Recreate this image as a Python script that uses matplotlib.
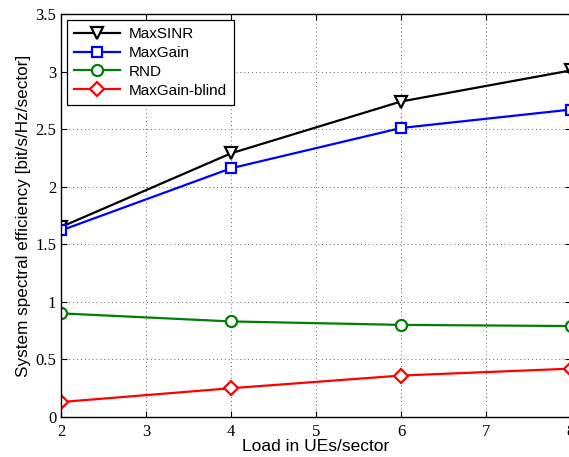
import matplotlib
matplotlib.use("Agg")
import matplotlib.pyplot as plt

load = [2, 4, 6, 8]
maxsinr = [1.65, 2.29, 2.74, 3.01]
maxgain = [1.62, 2.16, 2.51, 2.67]
rnd = [0.90, 0.83, 0.80, 0.79]
blind = [0.13, 0.25, 0.36, 0.42]
labels = ["MaxSINR", "MaxGain", "RND", "MaxGain-blind"]

fig = plt.figure(figsize=(5.69, 4.57), dpi=100)
ax = fig.add_axes([61/569, 40/457, 510/569, 403/457])

ax.plot(load, maxsinr, color="black", lw=1.6, marker="v", ms=9, mfc="white", mew=1.6, label=labels[0])
ax.plot(load, maxgain, color="blue", lw=1.6, marker="s", ms=7, mfc="white", mew=1.6, label=labels[1])
ax.plot(load, rnd, color="green", lw=1.6, marker="o", ms=8, mfc="white", mew=1.6, label=labels[2])
ax.plot(load, blind, color="red", lw=1.6, marker="D", ms=7, mfc="white", mew=1.6, label=labels[3])

ax.set_xlim(2, 8)
ax.set_ylim(0, 3.5)
ax.set_xticks([2, 3, 4, 5, 6, 7, 8])
ax.set_yticks([0, 0.5, 1, 1.5, 2, 2.5, 3, 3.5])
ax.set_yticklabels(["0", "0.5", "1", "1.5", "2", "2.5", "3", "3.5"])
ax.tick_params(direction="in", top=True, right=True, length=4, labelsize=12)
ax.tick_params(axis="x", pad=5)
for lab in ax.get_xticklabels() + ax.get_yticklabels():
    lab.set_family("Liberation Serif")
ax.grid(True, linestyle=(0, (1, 3)), color="#666666", lw=0.7)
for s in ax.spines.values():
    s.set_linewidth(1.0)

ax.set_xlabel("Load in UEs/sector", family="Liberation Sans", fontsize=12.5, labelpad=-1)
ax.set_ylabel("System spectral efficiency [bit/s/Hz/sector]", family="Liberation Sans", fontsize=12.3, labelpad=3)

leg = ax.legend(loc="upper left", prop={"family": "Liberation Sans", "size": 11},
                fancybox=False, edgecolor="black", framealpha=1, borderaxespad=0.4,
                handlelength=3.0, labelspacing=0.32, borderpad=0.45, handletextpad=0.6)
leg.get_frame().set_linewidth(0.9)

fig.savefig("out.png", dpi=100)
